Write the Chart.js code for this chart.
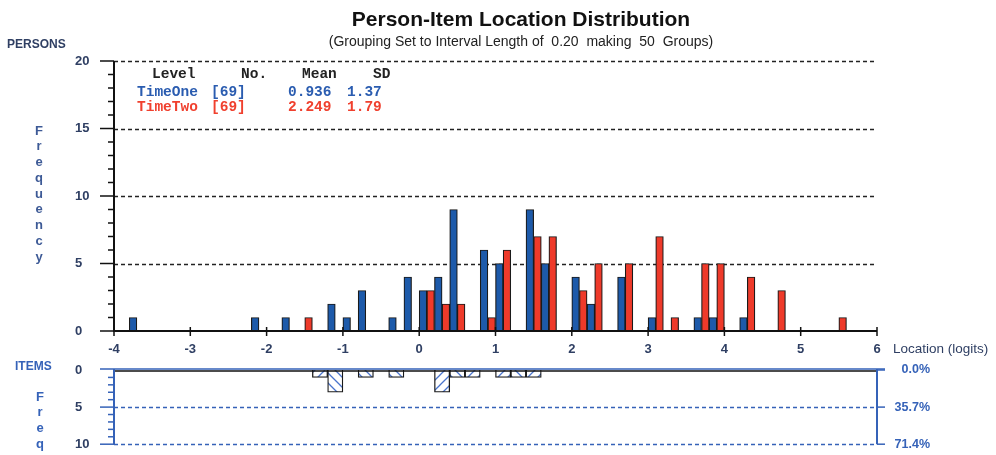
<!DOCTYPE html>
<html>
<head>
<meta charset="utf-8">
<title>Person-Item Location Distribution</title>
<script src="https://cdn.jsdelivr.net/npm/chart.js@4.4.1/dist/chart.umd.min.js"></script>
<style>
    body { margin: 0; background: #fff; }
    #wrap { position: relative; width: 996px; height: 455px; overflow: hidden; }
    #personChart { position: absolute; left: 0; top: 0; }
    #itemChart { position: absolute; left: 0; top: 355px; }
</style>
</head>
<body>
<div id="wrap">
    <canvas id="personChart" width="996" height="360"></canvas>
    <canvas id="itemChart" width="996" height="100"></canvas>
</div>
<script>
// group lower bounds (logits) and frequencies, interval length 0.2
const timeOneGroups = [-3.8, -2.2, -1.8, -1.2, -1.0, -0.8, -0.4, -0.2, 0.0, 0.2, 0.4, 0.8, 1.0, 1.4, 1.6, 2.0, 2.2, 2.6, 3.0, 3.6, 3.8, 4.2];
const timeOneCounts = [1, 1, 1, 2, 1, 3, 1, 4, 3, 4, 9, 6, 5, 9, 5, 4, 2, 4, 1, 1, 1, 1];
const timeTwoGroups = [-1.6, 0.0, 0.2, 0.4, 0.8, 1.0, 1.4, 1.6, 2.0, 2.2, 2.6, 3.0, 3.2, 3.6, 3.8, 4.2, 4.6, 5.4];
const timeTwoCounts = [1, 3, 2, 2, 1, 6, 7, 7, 3, 5, 5, 7, 1, 5, 5, 4, 3, 1];
const itemGroups = [-1.4, -1.2, -0.8, -0.4, 0.2, 0.4, 0.6, 1.0, 1.2, 1.4];
const itemCounts = [1, 3, 1, 1, 3, 1, 1, 1, 1, 1];

const xTicks = [-4, -3, -2, -1, 0, 1, 2, 3, 4, 5, 6];
const personTicks = [0, 5, 10, 15, 20];
const itemTicks = [0, 5, 10];

const legendRows = [
    { label: 'TimeOne', n: '[69]', mean: '0.936', sd: '1.37', color: '#2a5cb0' },
    { label: 'TimeTwo', n: '[69]', mean: '2.249', sd: '1.79', color: '#f0402e' }
];

const BLUE = '#1d5aaa';
const RED = '#ee3a2a';
const AXIS_TEXT = '#2f3f63';
const ITEM_BLUE = '#3562b8';
const itemTotal = itemCounts.reduce((a, b) => a + b, 0);

// one bar per half group: blue on the left half, red on the right half
const timeOneData = timeOneGroups.map((g, i) => ({ x: g + 0.05, y: timeOneCounts[i] }));
const timeTwoData = timeTwoGroups.map((g, i) => ({ x: g + 0.15, y: timeTwoCounts[i] }));
const itemData = itemGroups.map((g, i) => ({ x: g + 0.1, y: itemCounts[i] }));

// hatch pattern for the item bars
function makeHatch(ctx, forward) {
    const c = document.createElement('canvas');
    c.width = 10; c.height = 10;
    const g = c.getContext('2d');
    g.fillStyle = '#fff';
    g.fillRect(0, 0, 10, 10);
    g.strokeStyle = '#4a74cc';
    g.lineWidth = 1.3;
    g.beginPath();
    if (forward) {
        g.moveTo(-1, 11); g.lineTo(11, -1);
        g.moveTo(-3, 3); g.lineTo(3, -3);
        g.moveTo(7, 13); g.lineTo(13, 7);
    } else {
        g.moveTo(-1, -1); g.lineTo(11, 11);
        g.moveTo(7, -3); g.lineTo(13, 3);
        g.moveTo(-3, 7); g.lineTo(3, 13);
    }
    g.stroke();
    return ctx.createPattern(c, 'repeat');
}

function line(ctx, x1, y1, x2, y2) {
    ctx.beginPath();
    ctx.moveTo(x1, y1);
    ctx.lineTo(x2, y2);
    ctx.stroke();
}

// dashed grid, axes, ticks and the text around the persons chart
const personDecor = {
    id: 'personDecor',
    beforeDatasetsDraw(chart) {
        const { ctx, chartArea: a, scales: { y } } = chart;
        ctx.save();
        ctx.strokeStyle = '#222';
        ctx.lineWidth = 1.3;
        ctx.setLineDash([4, 3]);
        personTicks.slice(1).forEach(v => {
            const py = Math.round(y.getPixelForValue(v)) + 0.5;
            line(ctx, a.left, py, a.right, py);
        });
        ctx.restore();
    },
    afterDatasetsDraw(chart) {
        const { ctx, chartArea: a, scales: { x, y } } = chart;
        ctx.save();
        ctx.strokeStyle = '#111';
        ctx.lineWidth = 2;
        line(ctx, a.left, a.top, a.left, a.bottom + 1);
        line(ctx, a.left, a.bottom, a.right, a.bottom);
        ctx.lineWidth = 1.5;
        for (let v = 0; v <= 20; v++) {
            const py = y.getPixelForValue(v);
            line(ctx, v % 5 === 0 ? a.left - 14 : a.left - 6, py, a.left, py);
        }
        xTicks.forEach(v => {
            const px = x.getPixelForValue(v);
            line(ctx, px, a.bottom - 4, px, a.bottom + 5);
        });
        ctx.restore();
    },
    afterDraw(chart) {
        const { ctx } = chart;
        ctx.save();
        ctx.textAlign = 'center';
        ctx.textBaseline = 'alphabetic';
        ctx.fillStyle = '#111';
        ctx.font = 'bold 21px "Liberation Sans", Arial, sans-serif';
        ctx.fillText('Person-Item Location Distribution', 521, 26);
        ctx.fillStyle = '#222';
        ctx.font = '14px "Liberation Sans", Arial, sans-serif';
        ctx.fillText('(Grouping Set to Interval Length of  0.20  making  50  Groups)', 521, 46);

        ctx.textAlign = 'left';
        ctx.textBaseline = 'middle';
        ctx.fillStyle = AXIS_TEXT;
        ctx.font = 'bold 12px "Liberation Sans", Arial, sans-serif';
        ctx.fillText('PERSONS', 7, 45);
        ctx.font = '13.5px "Liberation Sans", Arial, sans-serif';
        ctx.fillText('Location (logits)', 893, 349);

        ctx.textAlign = 'center';
        ctx.fillStyle = '#3d5a96';
        ctx.font = 'bold 13px "Liberation Sans", Arial, sans-serif';
        'Frequency'.split('').forEach((ch, i) => ctx.fillText(ch, 39, 131 + i * 15.75));

        ctx.textAlign = 'left';
        ctx.font = 'bold 14.5px "Liberation Mono", "Courier New", monospace';
        ctx.fillStyle = '#222';
        ctx.fillText('Level', 152, 74);
        ctx.fillText('No.', 241, 74);
        ctx.fillText('Mean', 302, 74);
        ctx.fillText('SD', 373, 74);
        legendRows.forEach((r, i) => {
            const ty = 92 + i * 15;
            ctx.fillStyle = r.color;
            ctx.fillText(r.label, 137, ty);
            ctx.fillText(r.n, 211, ty);
            ctx.fillText(r.mean, 288, ty);
            ctx.fillText(r.sd, 347, ty);
        });
        ctx.restore();
    }
};

const itemDecor = {
    id: 'itemDecor',
    beforeDatasetsDraw(chart) {
        const { ctx, chartArea: a, scales: { y } } = chart;
        ctx.save();
        ctx.strokeStyle = ITEM_BLUE;
        ctx.lineWidth = 1.3;
        ctx.setLineDash([4, 3]);
        itemTicks.slice(1).forEach(v => {
            const py = Math.round(y.getPixelForValue(v)) + 0.5;
            line(ctx, a.left, py, a.right, py);
        });
        ctx.restore();
    },
    afterDatasetsDraw(chart) {
        const { ctx, chartArea: a, scales: { y } } = chart;
        const top = y.getPixelForValue(0);
        ctx.save();
        ctx.strokeStyle = ITEM_BLUE;
        ctx.lineWidth = 1.5;
        line(ctx, a.left - 14, top - 1, a.right + 8, top - 1);
        for (let v = 1; v <= 10; v++) {
            const py = y.getPixelForValue(v);
            line(ctx, v % 5 === 0 ? a.left - 14 : a.left - 6, py, a.left, py);
        }
        itemTicks.forEach(v => {
            const py = y.getPixelForValue(v);
            line(ctx, a.right, py, a.right + 8, py);
        });
        ctx.lineWidth = 2;
        line(ctx, a.left, top - 1, a.left, a.bottom);
        line(ctx, a.right, top - 1, a.right, a.bottom);
        ctx.strokeStyle = '#111';
        ctx.lineWidth = 1.5;
        line(ctx, a.left + 1, top + 1, a.right - 1, top + 1);
        ctx.restore();
    },
    afterDraw(chart) {
        const { ctx } = chart;
        ctx.save();
        ctx.fillStyle = ITEM_BLUE;
        ctx.textBaseline = 'middle';
        ctx.textAlign = 'left';
        ctx.font = 'bold 12px "Liberation Sans", Arial, sans-serif';
        ctx.fillText('ITEMS', 15, 12);
        ctx.textAlign = 'center';
        ctx.font = 'bold 13px "Liberation Sans", Arial, sans-serif';
        'Freq'.split('').forEach((ch, i) => ctx.fillText(ch, 40, 42 + i * 15.8));
        ctx.restore();
    }
};

const tickFont = { family: '"Liberation Sans", Arial, sans-serif', size: 13, weight: 'bold' };

const personCtx = document.getElementById('personChart').getContext('2d');
new Chart(personCtx, {
    type: 'bar',
    data: {
        datasets: [
            { label: 'TimeOne', data: timeOneData, backgroundColor: BLUE, borderColor: '#1a1a1a', borderWidth: 1.2, barThickness: 7.63, grouped: false },
            { label: 'TimeTwo', data: timeTwoData, backgroundColor: RED, borderColor: '#1a1a1a', borderWidth: 1.2, barThickness: 7.63, grouped: false }
        ]
    },
    options: {
        responsive: false,
        animation: false,
        layout: { padding: { left: 75, right: 119, top: 61, bottom: 0 } },
        plugins: { legend: { display: false }, title: { display: false }, tooltip: { enabled: false } },
        scales: {
            x: {
                type: 'linear',
                min: -4,
                max: 6,
                offset: false,
                grid: { display: false, drawTicks: false, offset: false },
                border: { display: false },
                ticks: { stepSize: 1, padding: 11, color: AXIS_TEXT, font: tickFont, maxRotation: 0, autoSkip: false },
                afterFit: s => { s.height = 29; }
            },
            y: {
                min: 0,
                max: 20,
                grid: { display: false, drawTicks: false },
                border: { display: false },
                ticks: { stepSize: 5, crossAlign: 'far', color: AXIS_TEXT, font: tickFont },
                afterFit: s => { s.width = 39; }
            }
        }
    },
    plugins: [personDecor]
});

const itemCtx = document.getElementById('itemChart').getContext('2d');
const fwd = makeHatch(itemCtx, true);
const back = makeHatch(itemCtx, false);
// hatch direction alternates with the group number
const itemFills = itemGroups.map(g => (Math.round((g + 4) / 0.2) % 2 === 1 ? fwd : back));

new Chart(itemCtx, {
    type: 'bar',
    data: {
        datasets: [
            { label: 'Items', data: itemData, backgroundColor: itemFills, borderColor: '#1a1a1a', borderWidth: 1.3, barThickness: 15.26, grouped: false }
        ]
    },
    options: {
        responsive: false,
        animation: false,
        layout: { padding: { left: 75, right: 66, top: 15, bottom: 8 } },
        plugins: { legend: { display: false }, tooltip: { enabled: false } },
        scales: {
            x: {
                type: 'linear',
                min: -4,
                max: 6,
                offset: false,
                display: false
            },
            y: {
                min: 0,
                max: 10,
                reverse: true,
                grid: { display: false, drawTicks: false },
                border: { display: false },
                ticks: { stepSize: 5, crossAlign: 'far', color: AXIS_TEXT, font: tickFont },
                afterFit: s => { s.width = 39; }
            },
            pct: {
                position: 'right',
                min: 0,
                max: 10,
                reverse: true,
                grid: { display: false, drawTicks: false },
                border: { display: false },
                ticks: {
                    stepSize: 5,
                    crossAlign: 'far',
                    color: ITEM_BLUE,
                    font: { family: '"Liberation Sans", Arial, sans-serif', size: 12.5, weight: 'bold' },
                    callback: v => (v / itemTotal * 100).toFixed(1) + '%'
                },
                afterFit: s => { s.width = 53; }
            }
        }
    },
    plugins: [itemDecor]
});
</script>
</body>
</html>
